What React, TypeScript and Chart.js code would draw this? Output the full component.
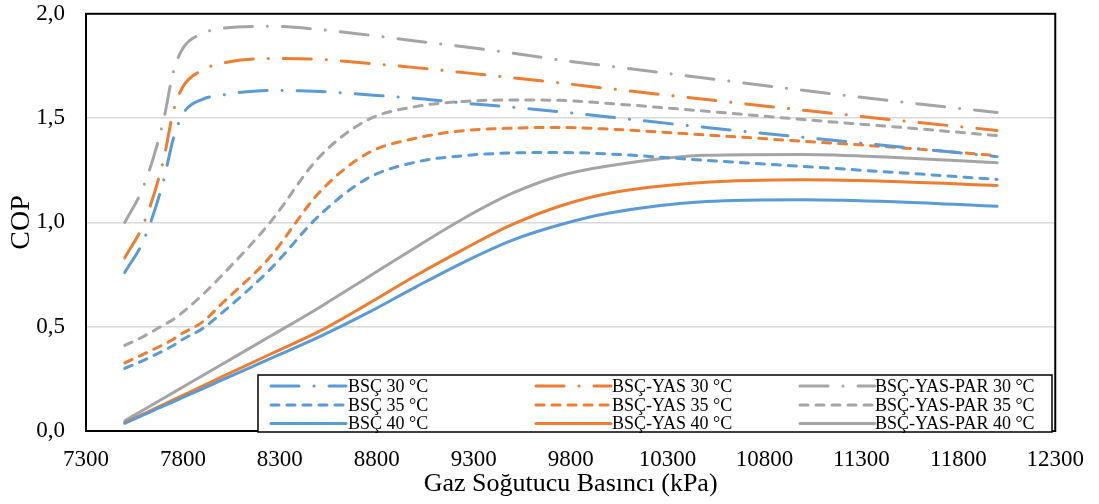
import React, { useEffect, useRef } from "react";
import { Chart, registerables } from "chart.js";

Chart.register(...registerables);

const pressures = [7500, 7600, 7700, 7750, 7800, 7900, 8000, 8250, 8500, 8750, 9000, 9250, 9500, 9750, 10000, 10500, 11000, 11500, 12000];

const bsc30 = [0.76, 0.92, 1.2, 1.4, 1.52, 1.59, 1.61, 1.633, 1.628, 1.612, 1.595, 1.572, 1.552, 1.53, 1.505, 1.455, 1.408, 1.362, 1.315];
const bscYas30 = [0.83, 1.0, 1.3, 1.53, 1.65, 1.73, 1.763, 1.786, 1.782, 1.763, 1.742, 1.718, 1.693, 1.668, 1.641, 1.589, 1.538, 1.488, 1.441];
const bscYasPar30 = [1.0, 1.18, 1.49, 1.72, 1.835, 1.905, 1.93, 1.94, 1.925, 1.899, 1.87, 1.842, 1.811, 1.778, 1.749, 1.691, 1.633, 1.578, 1.527];

const bsc35 = [0.3, 0.34, 0.385, 0.41, 0.44, 0.49, 0.565, 0.775, 1.03, 1.21, 1.289, 1.32, 1.333, 1.335, 1.328, 1.297, 1.268, 1.238, 1.206];
const bscYas35 = [0.327, 0.37, 0.415, 0.44, 0.47, 0.522, 0.61, 0.835, 1.14, 1.33, 1.403, 1.44, 1.452, 1.455, 1.447, 1.419, 1.389, 1.358, 1.32];
const bscYasPar35 = [0.41, 0.455, 0.508, 0.535, 0.57, 0.652, 0.745, 1.0, 1.31, 1.49, 1.555, 1.58, 1.587, 1.585, 1.57, 1.533, 1.493, 1.456, 1.416];

const bsc40 = [0.037, 0.078, 0.12, 0.14, 0.161, 0.202, 0.244, 0.347, 0.45, 0.565, 0.69, 0.81, 0.915, 0.99, 1.045, 1.1, 1.109, 1.098, 1.077];
const bscYas40 = [0.04, 0.083, 0.127, 0.149, 0.171, 0.215, 0.259, 0.368, 0.476, 0.607, 0.744, 0.872, 0.99, 1.08, 1.14, 1.192, 1.204, 1.195, 1.177];
const bscYasPar40 = [0.049, 0.103, 0.157, 0.184, 0.211, 0.265, 0.319, 0.454, 0.59, 0.735, 0.88, 1.02, 1.14, 1.225, 1.272, 1.322, 1.326, 1.31, 1.286];

const seriesLabels = [
  "BSÇ 30 °C", "BSÇ-YAS 30 °C", "BSÇ-YAS-PAR 30 °C",
  "BSÇ 35 °C", "BSÇ-YAS 35 °C", "BSÇ-YAS-PAR 35 °C",
  "BSÇ 40 °C", "BSÇ-YAS 40 °C", "BSÇ-YAS-PAR 40 °C",
];
const seriesValues = [bsc30, bscYas30, bscYasPar30, bsc35, bscYas35, bscYasPar35, bsc40, bscYas40, bscYasPar40];

const xTitle = "Gaz Soğutucu Basıncı (kPa)";
const yTitle = "COP";

const BLUE = "#5B9BD5";
const ORANGE = "#ED7D31";
const GRAY = "#A5A5A5";
const colors = [BLUE, ORANGE, GRAY];
const DASH_DOT = [28, 15, 0.1, 15];
const DASHED = [8, 8];
const SOLID: number[] = [];
const dashes = [DASH_DOT, DASHED, SOLID];
const FONT = "'Liberation Serif', 'Times New Roman', serif";

const legendPlugin = {
  id: "customLegend",
  afterDatasetsDraw(chart: any) {
    const ctx = chart.ctx;
    const area = chart.chartArea;
    ctx.save();
    ctx.strokeStyle = "#000";
    ctx.lineWidth = 2;
    ctx.setLineDash([]);
    ctx.strokeRect(area.left, area.top, area.right - area.left, area.bottom - area.top);
    const bx = 258, by = 375, bw = 794, bh = 57;
    ctx.fillStyle = "#fff";
    ctx.fillRect(bx, by, bw, bh);
    ctx.lineWidth = 1.5;
    ctx.strokeStyle = "#000";
    ctx.strokeRect(bx, by, bw, bh);
    const colX = [271, 536, 800];
    const textX = [348, 612, 875];
    const rowY = [386, 405, 423.5];
    ctx.font = "18px " + FONT;
    ctx.textBaseline = "middle";
    ctx.textAlign = "left";
    chart.data.datasets.forEach((ds: any, i: number) => {
      const col = i % 3;
      const row = Math.floor(i / 3);
      ctx.strokeStyle = ds.borderColor;
      ctx.lineWidth = 3;
      ctx.lineCap = "round";
      ctx.setLineDash(ds.borderDash || []);
      ctx.beginPath();
      ctx.moveTo(colX[col], rowY[row]);
      ctx.lineTo(colX[col] + 75, rowY[row]);
      ctx.stroke();
      ctx.setLineDash([]);
      ctx.fillStyle = "#000";
      ctx.fillText(ds.label, textX[col], rowY[row] + 1);
    });
    ctx.restore();
  },
};

export default function App() {
  const ref = useRef<HTMLCanvasElement | null>(null);
  useEffect(() => {
    if (!ref.current) return;
    const datasets = seriesValues.map((vals, i) => ({
      label: seriesLabels[i],
      data: pressures.map((p, j) => ({ x: p, y: vals[j] })),
      borderColor: colors[i % 3],
      backgroundColor: colors[i % 3],
      borderWidth: 3,
      borderDash: dashes[Math.floor(i / 3)],
      borderCapStyle: "round",
      pointRadius: 0,
      fill: false,
      cubicInterpolationMode: "monotone",
    }));
    const chart = new Chart(ref.current, {
      type: "line",
      data: { datasets: datasets as any },
      options: {
        animation: false,
        responsive: false,
        maintainAspectRatio: false,
        layout: { padding: { top: 13, right: 40, left: 0, bottom: 0 } },
        plugins: { legend: { display: false }, tooltip: { enabled: false } },
        scales: {
          x: {
            type: "linear",
            min: 7300,
            max: 12300,
            ticks: {
              stepSize: 500,
              color: "#000",
              font: { family: FONT, size: 23 },
              padding: 15,
              maxRotation: 0,
              autoSkip: false,
              callback: (v: any) => String(v),
            },
            grid: { display: false, drawTicks: false },
            border: { display: false },
            title: { display: true, text: xTitle, color: "#000", font: { family: FONT, size: 26 }, padding: { top: 0, bottom: 4 } },
            afterFit: (s: any) => { s.height = 73; },
          },
          y: {
            min: 0,
            max: 2,
            ticks: {
              stepSize: 0.5,
              color: "#000",
              font: { family: FONT, size: 23 },
              padding: 0,
              callback: (v: any) => Number(v).toFixed(1).replace(".", ","),
            },
            grid: { color: "#d9d9d9", lineWidth: 1.5, drawTicks: true, tickLength: 21, tickColor: "rgba(0,0,0,0)" },
            border: { display: false },
            title: { display: true, text: yTitle, color: "#000", font: { family: FONT, size: 28 }, padding: { top: 5, bottom: 0 } },
            afterFit: (s: any) => { s.width = 86; },
          },
        },
      },
      plugins: [legendPlugin],
    });
    return () => chart.destroy();
  }, []);
  return (
    <div style={{ position: "absolute", left: 0, top: 0, width: 1099, height: 504, background: "#fff" }}>
      <canvas ref={ref} width={1099} height={504} />
    </div>
  );
}
